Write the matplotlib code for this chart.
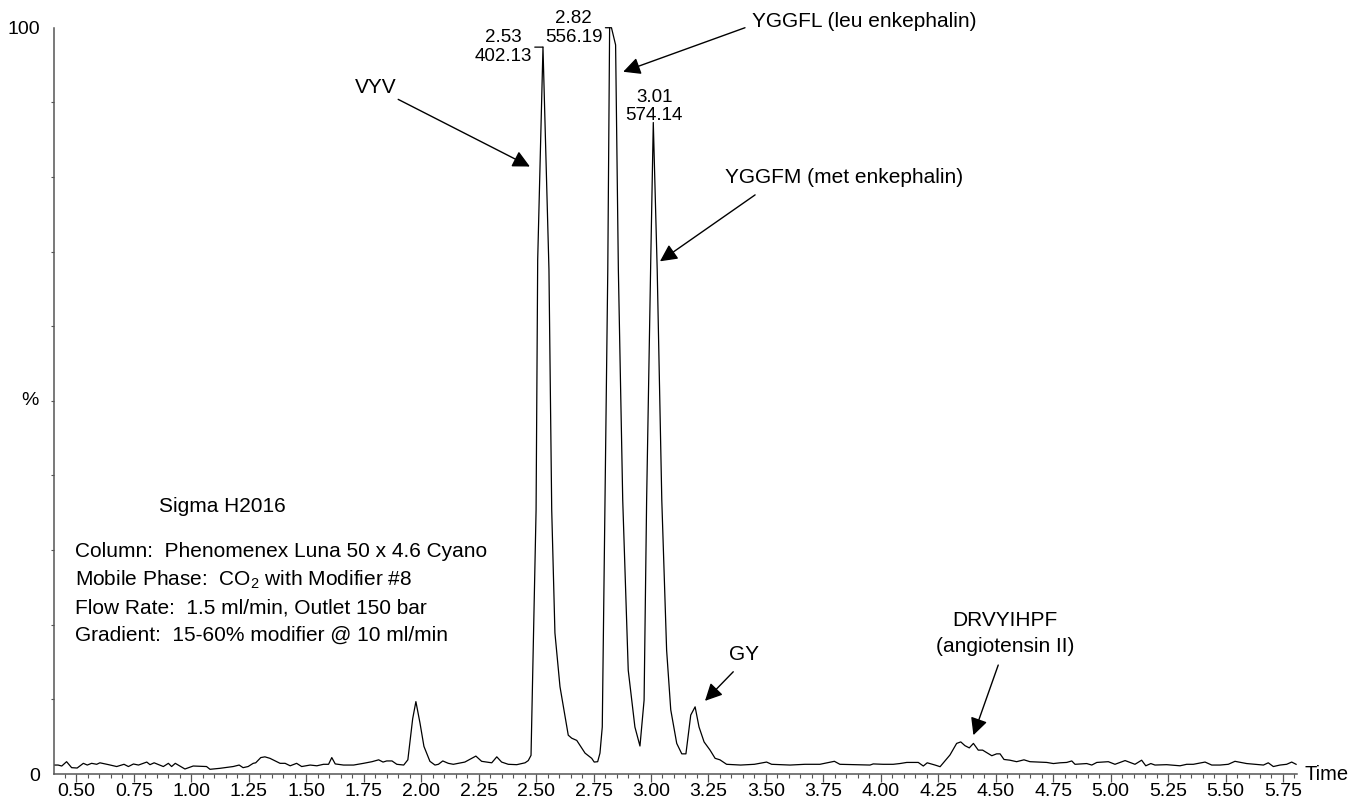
import matplotlib
matplotlib.use("Agg")
import matplotlib.pyplot as plt
from matplotlib.ticker import MultipleLocator, FixedLocator, FormatStrFormatter
from matplotlib.transforms import blended_transform_factory
import numpy as np

plt.rcParams['font.family'] = ['Liberation Sans', 'DejaVu Sans']
plt.rcParams['mathtext.default'] = 'regular'

# TIC trace: retention time (min) vs relative intensity (%)
time_min = [
    0.405, 0.42, 0.436, 0.457, 0.479, 0.503, 0.53, 0.547, 0.566, 0.588,
    0.602, 0.64, 0.675, 0.707, 0.726, 0.748, 0.77, 0.806, 0.82, 0.838,
    0.878, 0.9, 0.914, 0.93, 0.972, 1.008, 1.066, 1.081, 1.124, 1.182,
    1.208, 1.225, 1.247, 1.269, 1.28, 1.302, 1.32, 1.342, 1.386, 1.408,
    1.43, 1.458, 1.48, 1.517, 1.546, 1.575, 1.597, 1.611, 1.626, 1.662,
    1.706, 1.749, 1.786, 1.815, 1.834, 1.85, 1.873, 1.894, 1.924, 1.942,
    1.963, 1.977, 1.995, 2.012, 2.038, 2.06, 2.075, 2.094, 2.118, 2.14,
    2.19, 2.238, 2.263, 2.307, 2.329, 2.35, 2.379, 2.416, 2.452, 2.466,
    2.478, 2.483, 2.492, 2.5, 2.507, 2.53, 2.556, 2.568, 2.582, 2.604,
    2.64, 2.655, 2.677, 2.713, 2.742, 2.753, 2.768, 2.778, 2.788, 2.8,
    2.812, 2.82, 2.828, 2.846, 2.858, 2.877, 2.901, 2.93, 2.952, 2.97,
    2.981, 2.999, 3.01, 3.027, 3.047, 3.068, 3.086, 3.112, 3.134, 3.152,
    3.173, 3.192, 3.209, 3.231, 3.257, 3.279, 3.3, 3.329, 3.39, 3.45,
    3.503, 3.525, 3.605, 3.67, 3.735, 3.798, 3.822, 3.89, 3.953, 3.967,
    4.01, 4.054, 4.083, 4.113, 4.163, 4.185, 4.202, 4.236, 4.258, 4.301,
    4.33, 4.348, 4.366, 4.385, 4.403, 4.424, 4.443, 4.483, 4.504, 4.519,
    4.536, 4.562, 4.591, 4.623, 4.649, 4.69, 4.722, 4.751, 4.78, 4.809,
    4.831, 4.845, 4.896, 4.918, 4.94, 4.99, 5.019, 5.063, 5.106, 5.135,
    5.153, 5.175, 5.193, 5.244, 5.302, 5.331, 5.36, 5.411, 5.44, 5.476,
    5.512, 5.541, 5.592, 5.665, 5.686, 5.708, 5.737, 5.766, 5.788, 5.807,
]
intensity = [
    1.2, 1.2, 1.07, 1.65, 0.85, 0.8, 1.43, 1.2, 1.43, 1.3,
    1.5, 1.25, 1.0, 1.3, 1.0, 1.34, 1.2, 1.6, 1.25, 1.5,
    1.0, 1.43, 1.0, 1.43, 0.67, 1.07, 1.0, 0.63, 0.76, 1.0,
    1.2, 0.85, 1.0, 1.43, 1.5, 2.2, 2.3, 2.1, 1.43, 1.43,
    1.1, 1.43, 1.0, 1.2, 1.1, 1.3, 1.3, 2.2, 1.35, 1.2,
    1.2, 1.43, 1.65, 1.9, 1.6, 1.75, 1.75, 1.3, 1.2, 1.9,
    7.4, 9.7, 6.8, 3.7, 1.7, 1.2, 1.3, 1.75, 1.43, 1.3,
    1.6, 2.4, 1.7, 1.5, 2.3, 1.6, 1.3, 1.25, 1.5, 1.8,
    2.5, 9.9, 23.3, 35.4, 68.9, 97.4, 67.6, 35.4, 18.9, 11.7,
    5.2, 4.8, 4.5, 2.8, 2.1, 1.6, 1.65, 2.8, 6.3, 36.7,
    67.6, 100.0, 100.0, 97.7, 67.6, 36.7, 13.9, 6.3, 3.75, 9.9,
    36.7, 68.9, 87.3, 67.6, 36.7, 16.6, 8.6, 4.1, 2.7, 2.7,
    7.9, 9.0, 6.3, 4.3, 3.2, 2.1, 1.9, 1.3, 1.2, 1.3,
    1.6, 1.3, 1.2, 1.3, 1.3, 1.7, 1.3, 1.25, 1.2, 1.35,
    1.3, 1.3, 1.4, 1.55, 1.55, 1.07, 1.5, 1.2, 0.98, 2.55,
    4.1, 4.3, 3.8, 3.5, 4.1, 3.2, 3.2, 2.45, 2.7, 2.7,
    1.95, 1.85, 1.65, 1.9, 1.65, 1.6, 1.55, 1.4, 1.5, 1.55,
    1.75, 1.3, 1.4, 1.2, 1.55, 1.65, 1.3, 1.8, 1.3, 1.85,
    1.1, 1.4, 1.2, 1.25, 1.1, 1.3, 1.3, 1.6, 1.2, 1.2,
    1.3, 1.7, 1.4, 1.2, 1.5, 1.0, 1.2, 1.3, 1.6, 1.3,
]

# labelled peaks: retention time and base m/z
peak_rt = [2.53, 2.82, 3.01]
peak_mz = ["402.13", "556.19", "574.14"]

compound_names = ["VYV", "YGGFL (leu enkephalin)", "YGGFM (met enkephalin)",
                  "GY", "DRVYIHPF\n(angiotensin II)"]

method_title = "Sigma H2016"
method_lines = [
    "Column:  Phenomenex Luna 50 x 4.6 Cyano",
    "Mobile Phase:  CO$_2$ with Modifier #8",
    "Flow Rate:  1.5 ml/min, Outlet 150 bar",
    "Gradient:  15-60% modifier @ 10 ml/min",
]

fig = plt.figure(figsize=(13.69, 8.06), dpi=100)
ax = fig.add_axes([0.0394, 0.0397, 0.9080, 0.9259])

ax.plot(time_min, intensity, color='black', lw=0.9, clip_on=False)

ax.set_xlim(0.402, 5.811)
ax.set_ylim(0, 100)

for side in ('top', 'right'):
    ax.spines[side].set_visible(False)
for side in ('left', 'bottom'):
    ax.spines[side].set_color('#555555')
    ax.spines[side].set_linewidth(1.1)

ax.xaxis.set_major_locator(MultipleLocator(0.25))
ax.xaxis.set_minor_locator(MultipleLocator(0.05))
ax.xaxis.set_major_formatter(FormatStrFormatter('%.2f'))
ax.tick_params(axis='x', which='major', length=5.5, width=0.9, color='#555555',
               pad=1, labelsize=14)
ax.tick_params(axis='x', which='minor', length=3, width=0.8, color='#555555')

ax.yaxis.set_major_locator(FixedLocator([0, 100]))
ax.yaxis.set_minor_locator(FixedLocator(np.arange(10, 100, 10)))
ax.tick_params(axis='y', which='major', length=0, pad=10, labelsize=14)
ax.tick_params(axis='y', which='minor', length=2.5, width=0.8, color='#555555')

ax.text(-0.0193, 50, '%', transform=blended_transform_factory(ax.transAxes, ax.transData),
        ha='center', va='center', fontsize=14)
ax.text(1.0064, 0, 'Time', transform=blended_transform_factory(ax.transAxes, ax.transData),
        ha='left', va='center', fontsize=14.5)

# retention time / m/z labels on the three main peaks
peak_height = np.interp(peak_rt, time_min, intensity)
label_dx = [-11, -7, None]
for rt, mz, h, dx in zip(peak_rt, peak_mz, peak_height, label_dx):
    label = f"{rt:.2f}\n{mz}"
    if dx is None:
        ax.annotate(label, xy=(rt, h), xytext=(1, -1), textcoords='offset pixels',
                    ha='center', va='bottom', multialignment='center',
                    fontsize=13.5, linespacing=1.05)
    else:
        ax.annotate(label, xy=(rt, h), xytext=(dx, 0), textcoords='offset pixels',
                    ha='right', va='center', multialignment='center',
                    fontsize=13.5, linespacing=1.15,
                    arrowprops=dict(arrowstyle='-', lw=0.9, color='black',
                                    shrinkA=0, shrinkB=0, relpos=(1.0, 0.5)))

# compound names with pointer arrows
name_pos = [(1.803, 92.0, 'center'), (3.44, 100.8, 'left'), (3.322, 79.9, 'left'),
            (3.405, 16.0, 'center'), (4.54, 18.8, 'center')]
arrow_tail = [(1.900, 90.4), (3.409, 100.0), (3.453, 77.6), (3.358, 13.7), (4.511, 14.6)]
arrow_tip = [(2.473, 81.4), (2.879, 94.1), (3.039, 68.7), (3.235, 9.8), (4.403, 5.2)]
for name, (tx, ty, ha), tail, tip in zip(compound_names, name_pos, arrow_tail, arrow_tip):
    ax.text(tx, ty, name, ha=ha, va='center', fontsize=15, linespacing=1.45,
            multialignment='center')
    ax.annotate('', xy=tip, xytext=tail,
                arrowprops=dict(arrowstyle='-|>', lw=1.0, color='black',
                                mutation_scale=26, shrinkA=0, shrinkB=0))

# method details block
ax.text(0.859, 35.9, method_title, ha='left', va='center', fontsize=15)
for i, line in enumerate(method_lines):
    ax.text(0.4935, 29.8 - 3.75 * i, line, ha='left', va='center', fontsize=15)

fig.savefig('out.png', dpi=100)
